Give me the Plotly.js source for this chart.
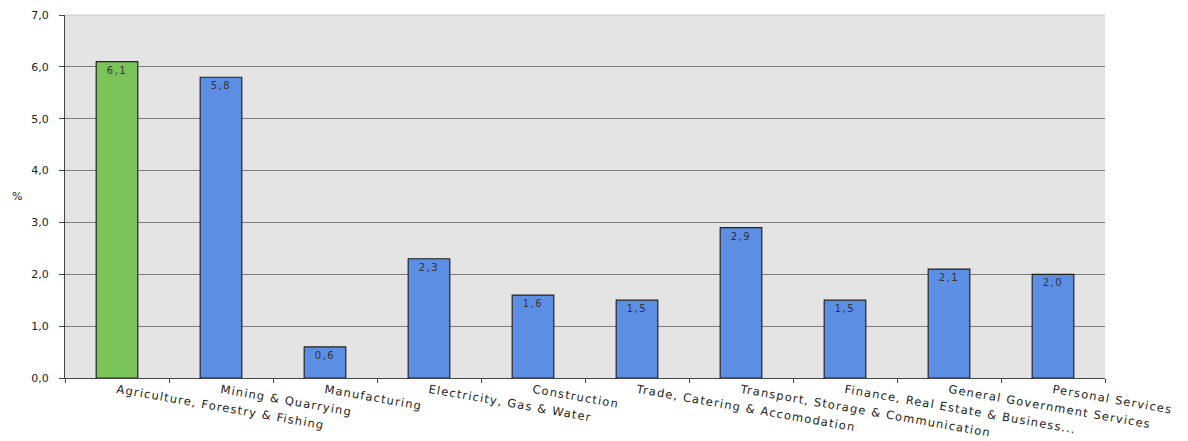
<!DOCTYPE html>
<html>
<head>
<meta charset="utf-8">
<script src="https://cdn.plot.ly/plotly-3.0.1.min.js"></script>
<style>
html,body{margin:0;padding:0;background:#fff;}
#chart{width:1188px;height:441px;}
#chart .xtick text{letter-spacing:1.2px;}
#chart .bartext{letter-spacing:1.5px;}
</style>
</head>
<body>
<div id="chart"></div>
<script>
const categories = [
  "Agriculture, Forestry & Fishing",
  "Mining & Quarrying",
  "Manufacturing",
  "Electricity, Gas & Water",
  "Construction",
  "Trade, Catering & Accomodation",
  "Transport, Storage & Communication",
  "Finance, Real Estate & Business...",
  "General Government Services",
  "Personal Services"
];
const values = [6.1, 5.8, 0.6, 2.3, 1.6, 1.5, 2.9, 1.5, 2.1, 2.0];
const valueLabels = ["6,1", "5,8", "0,6", "2,3", "1,6", "1,5", "2,9", "1,5", "2,1", "2,0"];
const yTickVals = [0, 1, 2, 3, 4, 5, 6, 7];
const yTickText = ["0,0", "1,0", "2,0", "3,0", "4,0", "5,0", "6,0", "7,0"];

const colors = categories.map((c, i) => i === 0 ? "#7ac45a" : "#5c8ee4");

const trace = {
  type: "bar",
  x: categories,
  y: values,
  text: valueLabels,
  textposition: "inside",
  insidetextanchor: "end",
  textangle: 0,
  constraintext: "none",
  textfont: {family: "DejaVu Sans, Verdana, sans-serif", size: 10, color: "#333"},
  marker: {color: colors, line: {color: "#222", width: 1.2}},
  hoverinfo: "none"
};

const layout = {
  width: 1188,
  height: 441,
  margin: {l: 65, r: 83, t: 15, b: 63},
  paper_bgcolor: "#ffffff",
  plot_bgcolor: "#e3e4e3",
  showlegend: false,
  bargap: 0.6,
  font: {family: "DejaVu Sans, Verdana, sans-serif", color: "#222"},
  xaxis: {
    tickangle: 10,
    tickfont: {size: 11.5, color: "#222"},
    showline: true,
    linecolor: "#444",
    linewidth: 1,
    ticks: "outside",
    tickson: "boundaries",
    ticklen: 4,
    tickcolor: "#444",
    showgrid: false,
    mirror: false,
    automargin: false
  },
  yaxis: {
    range: [0, 7],
    tickvals: yTickVals,
    ticktext: yTickText,
    tickfont: {size: 11, color: "#222"},
    ticklabelstandoff: 8,
    showline: true,
    linecolor: "#444",
    linewidth: 1,
    ticks: "outside",
    ticklen: 5,
    tickcolor: "#444",
    showgrid: true,
    gridcolor: "#7e7e7e",
    gridwidth: 1,
    zeroline: false,
    automargin: false
  },
  shapes: [{
    type: "line", xref: "paper", yref: "paper", x0: 0, x1: 1, y0: 1, y1: 1,
    line: {color: "#c8c8c8", width: 1}
  }],
  annotations: [{
    text: "%",
    xref: "paper", yref: "paper",
    x: -0.046, y: 0.5,
    xanchor: "center", yanchor: "middle",
    showarrow: false,
    font: {size: 11, color: "#222"}
  }]
};

Plotly.newPlot("chart", [trace], layout, {displayModeBar: false, staticPlot: true});
</script>
</body>
</html>
